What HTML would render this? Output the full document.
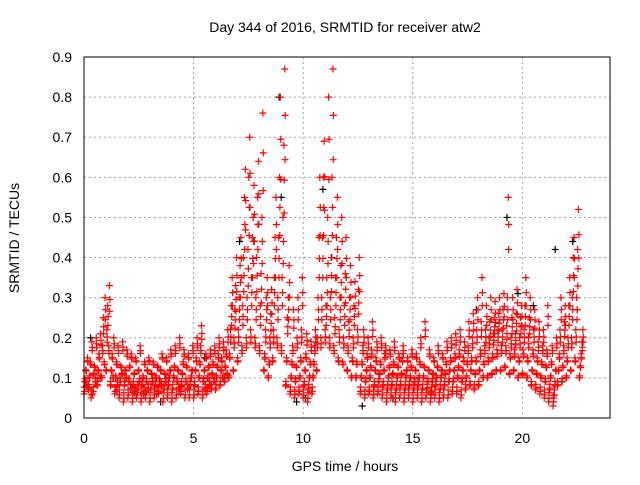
<!DOCTYPE html>
<html><head><meta charset="utf-8"><style>
body{margin:0;background:#fff;}
svg text{font-family:"Liberation Sans",sans-serif;font-size:14px;fill:#000;}
</style></head><body>
<svg id="chart" width="640" height="480" xmlns="http://www.w3.org/2000/svg">
<rect width="640" height="480" fill="#fff"/>
<text x="345" y="32" text-anchor="middle">Day 344 of 2016, SRMTID for receiver atw2</text>
<text x="345" y="471" text-anchor="middle">GPS time / hours</text>
<text transform="translate(19,238) rotate(-90)" text-anchor="middle">SRMTID / TECUs</text>
<g id="grid"></g><g id="ticks"></g><g id="black"></g><g id="red"></g>
<rect x="84" y="57" width="526" height="361" fill="none" stroke="#000" stroke-width="1"/>
</svg>
<script>
const xTicks=[0,5,10,15,20];
const yTicks=[0,0.1,0.2,0.3,0.4,0.5,0.6,0.7,0.8,0.9];
const hours=[0,0.2,0.4,0.6,0.8,1,1.2,1.4,1.6,1.8,2,2.2,2.4,2.6,2.8,3,3.2,3.4,3.6,3.8,4,4.2,4.4,4.6,4.8,5,5.2,5.4,5.6,5.8,6,6.2,6.4,6.6,6.8,7,7.2,7.4,7.6,7.8,8,8.2,8.4,8.6,8.8,9,9.2,9.4,9.6,9.8,10,10.2,10.4,10.6,10.8,11,11.2,11.4,11.6,11.8,12,12.2,12.4,12.6,12.8,13,13.2,13.4,13.6,13.8,14,14.2,14.4,14.6,14.8,15,15.2,15.4,15.6,15.8,16,16.2,16.4,16.6,16.8,17,17.2,17.4,17.6,17.8,18,18.2,18.4,18.6,18.8,19,19.2,19.4,19.6,19.8,20,20.2,20.4,20.6,20.8,21,21.2,21.4,21.6,21.8,22,22.2,22.4,22.6];
const redValues=[
[0.06,0.09,0.12,0.08,0.15],[0.07,0.1,0.14,0.05,0.19],[0.06,0.11,0.13,0.09,0.2],[0.08,0.12,0.16,0.1,0.21],[0.1,0.18,0.25,0.14,0.3],
[0.12,0.22,0.28,0.18,0.33],[0.08,0.12,0.16,0.1,0.2],[0.06,0.1,0.14,0.08,0.18],[0.05,0.09,0.13,0.11,0.19],[0.04,0.08,0.12,0.1,0.17],
[0.05,0.09,0.13,0.07,0.16],[0.04,0.08,0.11,0.06,0.15],[0.05,0.07,0.12,0.09,0.18],[0.04,0.08,0.1,0.06,0.14],[0.05,0.09,0.12,0.07,0.15],
[0.04,0.07,0.11,0.09,0.14],[0.05,0.08,0.1,0.06,0.13],[0.06,0.09,0.12,0.08,0.16],[0.04,0.07,0.11,0.09,0.15],[0.05,0.08,0.1,0.12,0.17],
[0.04,0.07,0.1,0.13,0.18],[0.05,0.09,0.12,0.07,0.2],[0.06,0.08,0.11,0.14,0.17],[0.05,0.09,0.13,0.07,0.16],[0.05,0.08,0.1,0.12,0.18],
[0.05,0.08,0.12,0.15,0.2],[0.06,0.1,0.14,0.18,0.23],[0.05,0.09,0.12,0.07,0.16],[0.06,0.1,0.13,0.08,0.17],[0.07,0.11,0.14,0.09,0.18],
[0.07,0.1,0.13,0.16,0.2],[0.08,0.12,0.15,0.1,0.19],[0.09,0.13,0.17,0.11,0.22],[0.1,0.16,0.22,0.28,0.35],[0.12,0.2,0.27,0.33,0.4],
[0.15,0.22,0.3,0.38,0.45],[0.18,0.28,0.4,0.55,0.62],[0.2,0.3,0.42,0.6,0.7],[0.22,0.35,0.45,0.5,0.58],[0.2,0.3,0.4,0.55,0.64],
[0.18,0.28,0.36,0.5,0.76],[0.12,0.16,0.22,0.3,0.35],[0.1,0.14,0.2,0.26,0.32],[0.15,0.22,0.35,0.45,0.55],[0.2,0.3,0.45,0.6,0.8],
[0.18,0.35,0.5,0.68,0.87],[0.08,0.15,0.25,0.3,0.38],[0.06,0.1,0.14,0.18,0.27],[0.05,0.09,0.13,0.2,0.3],[0.06,0.1,0.15,0.22,0.35],
[0.05,0.08,0.12,0.16,0.21],[0.04,0.07,0.1,0.14,0.19],[0.06,0.1,0.14,0.18,0.22],[0.12,0.2,0.3,0.45,0.6],[0.2,0.3,0.45,0.6,0.69],
[0.22,0.28,0.35,0.5,0.8],[0.2,0.3,0.4,0.6,0.87],[0.18,0.25,0.35,0.45,0.55],[0.15,0.22,0.3,0.38,0.5],[0.14,0.2,0.28,0.36,0.45],
[0.12,0.18,0.24,0.3,0.38],[0.1,0.15,0.2,0.28,0.34],[0.1,0.14,0.22,0.32,0.4],[0.06,0.1,0.14,0.18,0.22],[0.05,0.09,0.12,0.16,0.2],
[0.06,0.1,0.13,0.17,0.24],[0.05,0.08,0.12,0.15,0.19],[0.06,0.09,0.11,0.14,0.2],[0.05,0.08,0.12,0.16,0.18],[0.04,0.07,0.1,0.13,0.17],
[0.05,0.08,0.11,0.14,0.19],[0.04,0.07,0.1,0.13,0.16],[0.05,0.08,0.11,0.15,0.18],[0.04,0.07,0.1,0.12,0.15],[0.05,0.08,0.1,0.13,0.17],
[0.04,0.07,0.09,0.12,0.16],[0.05,0.08,0.1,0.14,0.2],[0.04,0.07,0.1,0.13,0.24],[0.05,0.07,0.09,0.12,0.17],[0.04,0.06,0.09,0.11,0.15],
[0.05,0.08,0.1,0.13,0.18],[0.04,0.07,0.1,0.12,0.16],[0.05,0.08,0.11,0.14,0.19],[0.05,0.09,0.12,0.15,0.2],[0.06,0.09,0.12,0.16,0.21],
[0.06,0.1,0.13,0.17,0.22],[0.05,0.09,0.12,0.15,0.19],[0.07,0.1,0.14,0.18,0.24],[0.08,0.12,0.15,0.2,0.26],[0.07,0.11,0.15,0.22,0.3],
[0.08,0.12,0.17,0.24,0.35],[0.1,0.14,0.18,0.22,0.28],[0.1,0.15,0.2,0.24,0.3],[0.11,0.16,0.21,0.25,0.29],[0.12,0.17,0.22,0.26,0.3],
[0.12,0.18,0.22,0.27,0.31],[0.13,0.18,0.23,0.3,0.55],[0.11,0.16,0.2,0.25,0.3],[0.12,0.17,0.21,0.26,0.32],[0.1,0.15,0.2,0.25,0.28],
[0.11,0.17,0.22,0.28,0.35],[0.1,0.15,0.2,0.25,0.3],[0.08,0.12,0.17,0.22,0.27],[0.07,0.11,0.15,0.19,0.24],[0.06,0.1,0.14,0.18,0.22],
[0.05,0.09,0.13,0.17,0.28],[0.04,0.07,0.1,0.14,0.18],[0.03,0.05,0.08,0.12,0.2],[0.08,0.12,0.16,0.22,0.3],[0.09,0.13,0.18,0.24,0.28],
[0.1,0.15,0.2,0.28,0.35],[0.12,0.2,0.3,0.4,0.45],[0.15,0.22,0.3,0.42,0.52],[0.1,0.13,0.16,0.19,0.22]];
const blackHours=[0.3,1.5,3.5,5.5,7.1,8.9,9.0,9.7,10.1,10.9,11.3,12.7,14.1,16.4,17.9,19.3,19.8,20.5,21.5,22.3,22.5];
const blackValues=[0.2,0.07,0.04,0.15,0.44,0.8,0.55,0.04,0.05,0.57,0.4,0.03,0.05,0.05,0.27,0.5,0.31,0.28,0.42,0.44,0.27];
const X0=84,X1=610,Y0=418,Y1=57,XMAX=24,YMAX=0.9;
const xs=v=>X0+v/XMAX*(X1-X0);
const ys=v=>Y0-v/YMAX*(Y0-Y1);
const NS='http://www.w3.org/2000/svg';
function mk(tag,parent){const e=document.createElementNS(NS,tag);parent.appendChild(e);return e;}
const grid=document.getElementById('grid'),ticks=document.getElementById('ticks');
xTicks.forEach(t=>{
  const x=xs(t);
  if(t>0){const g=mk('line',grid);g.setAttribute('x1',x);g.setAttribute('x2',x);g.setAttribute('y1',Y1);g.setAttribute('y2',Y0);g.setAttribute('stroke','#a0a0a0');g.setAttribute('stroke-dasharray','2,3');
  
  }
  const l=mk('text',ticks);l.setAttribute('x',x);l.setAttribute('y',443);l.setAttribute('text-anchor','middle');l.textContent=t;
  
  
});
yTicks.forEach(t=>{
  const y=ys(t);
  if(t>0){const g=mk('line',grid);g.setAttribute('x1',X0);g.setAttribute('x2',X1);g.setAttribute('y1',y);g.setAttribute('y2',y);g.setAttribute('stroke','#a0a0a0');g.setAttribute('stroke-dasharray','2,3');
  
  }
  const l=mk('text',ticks);l.setAttribute('x',72);l.setAttribute('y',y+5);l.setAttribute('text-anchor','end');l.textContent=t;
  
  
});
function cross(parent,h,v,color){
  const x=xs(h),y=ys(v);
  const p=mk('path',parent);
  p.setAttribute('d',`M${x-3.5},${y}H${x+3.5}M${x},${y-3.5}V${y+3.5}`);
  p.setAttribute('stroke',color);p.setAttribute('stroke-width','1.2');
  
  
}
const blackG=document.getElementById('black'),redG=document.getElementById('red');
blackHours.forEach((h,i)=>cross(blackG,h,blackValues[i],'#000'));
hours.forEach((h,i)=>redValues[i].forEach((v,j)=>{
  cross(redG,h+j*0.04,v,'#f00');
  cross(redG,h+j*0.04+0.02,v*0.85+0.015,'#f00');
  cross(redG,h+j*0.04+0.013,v*0.7+0.035,'#f00');
}));
</script>
</body></html>
